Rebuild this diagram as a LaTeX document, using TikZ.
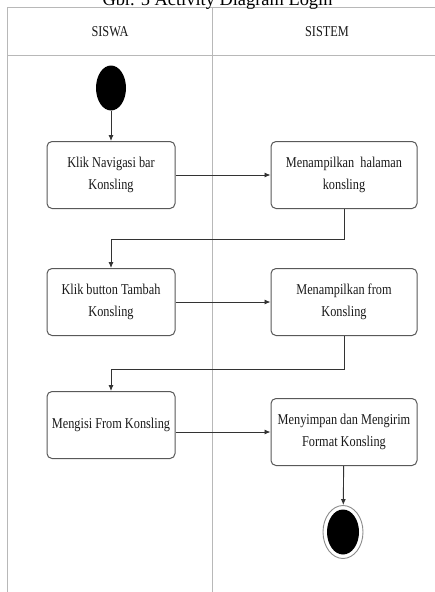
\documentclass[tikz,border=0pt]{standalone}
\usepackage{fontspec}
\setmainfont{Liberation Serif}[FakeStretch=0.82]
\newfontfamily\titlefont{Liberation Serif}
\usepackage{xcolor}
\usepackage{tikz}
\usetikzlibrary{arrows.meta,positioning,shapes.geometric}

\begin{document}
\begin{tikzpicture}[
  x=1pt, y=-1pt,
  node distance=95pt,
  lane/.style={draw=black!28, line width=0.9pt},
  act/.style={rectangle, rounded corners=5pt, draw=black!65, line width=1pt, align=center,
    minimum width=128pt, minimum height=67pt, inner sep=2pt,
    font=\fontsize{15}{22}\selectfont, text=black!90},
  wide/.style={minimum width=146pt},
  arrow/.style={-{Latex[length=6pt, width=5pt]}, line width=0.9pt, draw=black!80}
]
\useasboundingbox (0,0) rectangle (435,592);
\clip (0,0) rectangle (435,592);
\fill[white] (0,0) rectangle (435,592);
% swimlanes
\draw[lane] (7,600) -- (7,7) -- (440,7);
\draw[lane] (7,55) -- (440,55);
\draw[lane] (212,7) -- (212,600);
\node[anchor=base, font=\titlefont\fontsize{18.4}{20}\selectfont] (judul) at (217.5,5.5) {Gbr. 5 Activity Diagram Login};
\node[font=\fontsize{15}{18}\selectfont, text=black!90] (siswa) at (110,32) {SISWA};
\node[font=\fontsize{15}{18}\selectfont, text=black!90] (sistem) at (327,32) {SISTEM};
% aktivitas
\node[ellipse, fill=black, minimum width=30pt, minimum height=45pt, inner sep=0pt] (mulai) at (111,88) {};
\node[act] (klik) at (111,175) {Klik Navigasi bar\\Konsling};
\node[act, wide, right=of klik] (halaman) {Menampilkan\ \ halaman\\konsling};
\node[act, below=59pt of klik] (tambah) {Klik button Tambah\\Konsling};
\node[act, wide, right=of tambah] (form) {Menampilkan from\\Konsling};
\node[act, below=55pt of tambah] (isi) {Mengisi From Konsling};
\node[act, wide, below=62pt of form] (simpan) {Menyimpan dan Mengirim\\Format Konsling};
\node[ellipse, draw=black!45, fill=white, line width=0.9pt, minimum width=40pt, minimum height=53pt, inner sep=0pt] (selesai) at (343,532) {};
\node[ellipse, fill=black, minimum width=32pt, minimum height=45pt, inner sep=0pt] (selesaiin) at (selesai) {};
% alur
\draw[arrow] (mulai) -- (klik);
\draw[arrow] (klik) -- (halaman);
\draw[arrow] (halaman.south) -- ++(0,30) -| (tambah.north);
\draw[arrow] (tambah) -- (form);
\draw[arrow] (form.south) -- ++(0,33) -| (isi.north);
\draw[arrow] (isi.east |- simpan.west) -- (simpan.west);
\draw[arrow] (simpan) -- (selesai);
\end{tikzpicture}
\end{document}
